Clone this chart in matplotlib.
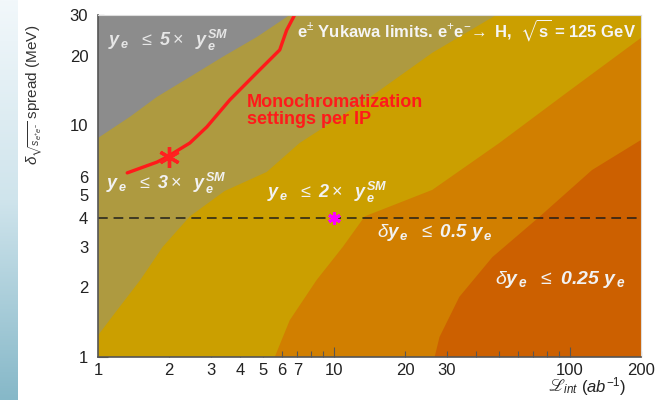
import numpy as np
import matplotlib
matplotlib.use("Agg")
import matplotlib.pyplot as plt
from matplotlib.ticker import FixedLocator, FuncFormatter
from matplotlib.colors import LinearSegmentedColormap

plt.rcParams['font.family'] = ['Liberation Sans', 'DejaVu Sans']
plt.rcParams['mathtext.fontset'] = 'custom'
plt.rcParams['mathtext.rm'] = 'Liberation Sans'
plt.rcParams['mathtext.it'] = 'Liberation Sans:italic'
plt.rcParams['mathtext.bf'] = 'Liberation Sans:bold'
plt.rcParams['mathtext.bfit'] = 'Liberation Sans:bold:italic'
plt.rcParams['mathtext.fallback'] = 'stix'

# ---- data ----
# region boundaries (L_int in ab^-1, delta sqrt(s) spread in MeV)
bound_5x_L = [1.0, 1.365, 1.78, 2.45, 3.38, 4.71, 6.49]
bound_5x_d = [8.83, 10.9, 13.3, 16.2, 19.8, 24.1, 30.0]

bound_3x_L = [1.0, 1.18, 1.51, 1.88, 2.45, 3.44, 5.19, 7.15, 13.7, 26.1, 48.7]
bound_3x_d = [1.24, 1.55, 2.15, 2.99, 4.05, 5.21, 6.3, 8.4, 12.9, 20.6, 30.0]

bound_2x_L = [5.61, 6.49, 8.44, 10.9, 13.5, 26.1, 50.2, 96.4, 200.0]
bound_2x_d = [1.0, 1.44, 2.15, 2.99, 4.05, 5.27, 8.4, 13.8, 23.9]

bound_05_L = [26.7, 28.0, 34.0, 46.9, 74.0, 124.0, 200.0]
bound_05_d = [1.0, 1.22, 1.82, 2.70, 4.02, 6.42, 8.66]

# monochromatization settings per IP (red curve)
mono_L = [1.33, 1.78, 1.96, 2.45, 2.89, 3.62, 4.71, 5.89, 6.30, 6.81]
mono_d = [6.24, 6.95, 7.31, 8.4, 9.85, 12.9, 16.9, 21.2, 25.8, 30.0]

red_star = (2.0, 7.3)
magenta_star = (10.0, 4.0)
dashed_level = 4.0

x_label_vals = [1, 2, 3, 4, 5, 6, 7, 10, 20, 30, 100, 200]
y_label_vals = [1, 2, 3, 4, 5, 6, 10, 20, 30]

region_colors = ['#cc6000', '#d17f00', '#cb9f00', '#ae9a40', '#8c8c8c']

# ---- figure ----
fig = plt.figure(figsize=(6.63, 4.0), dpi=100)

# decorative blue strip on the left
sax = fig.add_axes([0, 0, 18 / 663, 1])
grad = np.linspace(0, 1, 256).reshape(-1, 1)
cmap = LinearSegmentedColormap.from_list('strip', ['#f2f8fb', '#cfe4ec', '#86b8c8'])
sax.imshow(grad, aspect='auto', cmap=cmap, extent=[0, 1, 0, 1], origin='upper')
sax.axis('off')

ax = fig.add_axes([98 / 663, 1 - 357 / 400, 543 / 663, 342 / 400])
ax.set_xscale('log')
ax.set_yscale('log')
xmin, xmax, ymin, ymax = 1, 200, 1, 30
ax.set_xlim(xmin, xmax)
ax.set_ylim(ymin, ymax)

ax.add_patch(plt.Rectangle((xmin, ymin), xmax - xmin, ymax - ymin,
                           facecolor=region_colors[0], edgecolor='none', zorder=0))
ax.fill(bound_05_L + [xmax, xmin, xmin], bound_05_d + [ymax, ymax, ymin],
        color=region_colors[1], lw=0, zorder=1)
ax.fill(bound_2x_L + [xmax, xmin, xmin], bound_2x_d + [ymax, ymax, ymin],
        color=region_colors[2], lw=0, zorder=2)
ax.fill(bound_3x_L + [xmin], bound_3x_d + [ymax],
        color=region_colors[3], lw=0, zorder=3)
ax.fill(bound_5x_L + [xmin], bound_5x_d + [ymax],
        color=region_colors[4], lw=0, zorder=4)

ax.axhline(dashed_level, color='#1a1a1a', lw=1.4, ls=(0, (5, 3)), alpha=0.75, zorder=5)
ax.plot(mono_L, mono_d, color='#ff1a1a', lw=2.4, zorder=6, solid_capstyle='round')
ax.plot(*red_star, marker=(6, 2, 0), ms=15, mew=2.4, color='#ff2020', zorder=7)
ax.plot(*magenta_star, marker=(6, 2, 0), ms=9, mew=2.2, color='#ff00ff', zorder=7)

# ticks
ax.xaxis.set_major_locator(FixedLocator([1, 10, 100]))
ax.xaxis.set_minor_locator(FixedLocator([2, 3, 4, 5, 6, 7, 8, 9, 20, 30, 40, 50, 60, 70, 80, 90, 200]))
ax.yaxis.set_major_locator(FixedLocator([1, 10]))
ax.yaxis.set_minor_locator(FixedLocator([2, 3, 4, 5, 6, 7, 8, 9, 20, 30]))

def fmt_x(v, pos):
    return f"{int(round(v))}" if int(round(v)) in x_label_vals else ""

def fmt_y(v, pos):
    return f"{int(round(v))}" if int(round(v)) in y_label_vals else ""

ax.xaxis.set_major_formatter(FuncFormatter(fmt_x))
ax.xaxis.set_minor_formatter(FuncFormatter(fmt_x))
ax.yaxis.set_major_formatter(FuncFormatter(fmt_y))
ax.yaxis.set_minor_formatter(FuncFormatter(fmt_y))
ax.tick_params(which='both', direction='in', top=False, right=False,
               labelsize=12, labelcolor='#222222', color='#555555', width=0.8)
ax.tick_params(which='major', length=7)
ax.tick_params(which='minor', length=4)
ax.tick_params(axis='x', which='both', pad=4)
ax.tick_params(axis='y', which='both', pad=7)

for s in ['left', 'bottom']:
    ax.spines[s].set_color('#555555')
    ax.spines[s].set_linewidth(1.2)
for s in ['top', 'right']:
    ax.spines[s].set_color('#dddddd')
    ax.spines[s].set_linewidth(0.8)
for s in ax.spines.values():
    s.set_zorder(10)

# texts
wt = '#f2f2f2'
def ylim_label(k):
    return (r'$\mathbfit{y}_{\,\mathbfit{e}}\ \ \leq\ \mathbfit{' + k +
            r'}\times\ \ \mathbfit{y}_{\,\mathbfit{e}}^{\,\mathbfit{SM}}$')

ax.text(0.018, 0.927, ylim_label('5'), transform=ax.transAxes, color='#e6e6e6',
        fontsize=13, ha='left', va='center', zorder=8)
ax.text(0.015, 0.506, ylim_label('3'), transform=ax.transAxes, color=wt,
        fontsize=13, ha='left', va='center', zorder=8)
ax.text(0.311, 0.48, ylim_label('2'), transform=ax.transAxes, color=wt,
        fontsize=13, ha='left', va='center', zorder=8)
ax.text(0.514, 0.363, r'$\delta\mathbfit{y}_{\,\mathbfit{e}}\ \ \leq\ \mathbfit{0.5}\ \mathbfit{y}_{\,\mathbfit{e}}$',
        transform=ax.transAxes, color=wt, fontsize=13.5, ha='left', va='center', zorder=8)
ax.text(0.731, 0.228, r'$\delta\mathbfit{y}_{\,\mathbfit{e}}\ \ \leq\ \mathbfit{0.25}\ \mathbfit{y}_{\,\mathbfit{e}}$',
        transform=ax.transAxes, color=wt, fontsize=14, ha='left', va='center', zorder=8)
ax.text(0.366, 0.956, r'e$^{\pm}$ Yukawa limits. e$^{+}$e$^{-}\!\rightarrow$ H,  $\sqrt{\mathbf{s}}$ = 125 GeV',
        transform=ax.transAxes, color='#f5f5f5', fontsize=12, fontweight='bold',
        ha='left', va='center', zorder=8)
ax.text(0.274, 0.743, 'Monochromatization', transform=ax.transAxes, color='#ff1a1a',
        fontsize=13, fontweight='bold', ha='left', va='center', zorder=8)
ax.text(0.274, 0.693, 'settings per IP', transform=ax.transAxes, color='#ff1a1a',
        fontsize=13, fontweight='bold', ha='left', va='center', zorder=8)

fig.text(0.053, 0.7625, r'$\delta_{\sqrt{s_{e^{+}e^{-}}}}$ spread (MeV)', rotation=90,
         ha='center', va='center', fontsize=11, color='#333333')
fig.text(0.826, 0.034, r'$\mathscr{L}_{int}$', ha='left', va='center',
         fontsize=12, color='#222222')
fig.text(0.877, 0.034, r'($ab^{-1}$)', ha='left', va='center',
         fontsize=12, color='#222222')

fig.savefig('out.png', dpi=100)
